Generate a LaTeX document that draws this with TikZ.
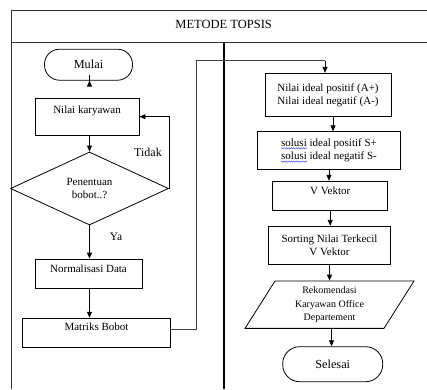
\documentclass[tikz,border=0pt]{standalone}
\usepackage{fontspec}
\setmainfont{Liberation Serif}
\usetikzlibrary{arrows.meta,shapes.geometric,decorations.pathmorphing,calc}
\definecolor{spell}{RGB}{70,90,220}
\begin{document}
\begin{tikzpicture}[x=1pt,y=-1pt,
  box/.style={draw, line width=0.8pt, rectangle, inner sep=0pt, align=center,
    font=\fontsize{11}{13.3}\selectfont},
  term/.style={draw, line width=0.8pt, rectangle, inner sep=0pt,
    font=\fontsize{12.3}{14}\selectfont},
  raise/.style={text height=8pt, text depth=#1},
  decision/.style={draw, line width=0.8pt, diamond, aspect=2, inner sep=0pt,
    align=center, font=\fontsize{11}{13}\selectfont},
  iobox/.style={draw, line width=0.8pt, trapezium, trapezium left angle=62,
    trapezium right angle=118, trapezium stretches=true, inner sep=0pt,
    align=center, font=\fontsize{10}{13.3}\selectfont},
  arr/.style={line width=0.8pt, -{Triangle[length=6pt,width=5pt]}},
  link/.style={line width=0.8pt, draw=black!75},
  frame/.style={line width=1pt, draw=black!80},
  divider/.style={line width=1.8pt, draw=black},
  lbl/.style={inner sep=0pt, font=\fontsize{12}{14}\selectfont},
  wave/.style={draw=spell, line width=0.5pt, decorate,
    decoration={snake, amplitude=0.6pt, segment length=2.4pt}}
]
\useasboundingbox (0,0) rectangle (427,389);

% frame
\draw[frame] (11.7,389) -- (11.7,10) -- (427,10);
\draw[frame] (11.7,42.7) -- (427,42.7);
\draw[divider] (224,42.7) -- (224,389);
\node[lbl, font=\fontsize{12.5}{14}\selectfont] (title) at (223.7,24) {METODE TOPSIS};

% left column
\node[term, rounded corners=15pt, minimum width=88pt, minimum height=31pt] (mulai) at (88.5,64.7) {Mulai};
\node[box, raise=14.8pt, minimum width=104pt, minimum height=36.7pt] (nk) at (87,116.7) {Nilai karyawan};
\node[decision, minimum width=158pt, minimum height=73pt] (pen) at (89.5,188.5) {Penentuan\\bobot..?};
\node[box, raise=9.8pt, minimum width=107pt, minimum height=29pt] (norm) at (88.5,273.5) {Normalisasi Data};
\node[box, raise=12.2pt, minimum width=148.4pt, minimum height=29.7pt] (mat) at (96.5,333) {Matriks Bobot};

\draw[arr] (mulai.south -| pen.north) -- (mulai.south -| pen.north |- nk.north);
\draw[arr] (pen.north |- nk.south) -- (pen.north);
\draw[arr] (pen.east) -- (pen.east |- nk.east) -- (nk.east);
\node[lbl] (tidak) at (148,152) {Tidak};
\draw[arr] (pen.south) -- (pen.south |- norm.north);
\node[lbl, font=\fontsize{11.5}{13}\selectfont] (ya) at (116,237) {Ya};
\draw[arr] (pen.south |- norm.south) -- (pen.south |- mat.north);

% link to right column
\coordinate (up1) at (196.7,60.7);
\coordinate (up2) at (325,60.7);
\draw[link] ([yshift=3.7pt]mat.east) -| (up1) -- (up2);

% right column
\node[box, minimum width=126pt, minimum height=43.4pt] (ni) at (328,95) {Nilai ideal positif (A+)\\Nilai ideal negatif (A-)};
\node[box, minimum width=143.4pt, minimum height=37.3pt] (sol) at (329,150.4) {solusi ideal positif S+\\solusi ideal negatif S-};
\node[box, raise=11.4pt, minimum width=115pt, minimum height=29.7pt] (vv) at (330.2,196) {V Vektor};
\node[box, minimum width=122.4pt, minimum height=38.3pt] (sort) at (329.5,245.4) {Sorting Nilai Terkecil\\V Vektor};
\node[iobox, minimum width=169pt, minimum height=47.3pt] (rek) at (329.5,304.7) {Rekomendasi\\Karyawan Office\\Departement};
\node[term, rounded corners=17pt, minimum width=100pt, minimum height=35pt] (sel) at (332.7,364.2) {Selesai};

\draw[arr] (up2) -- (up2 |- ni.north);
\draw[arr] ([xshift=5pt]ni.south) -- ([xshift=5pt]ni.south |- sol.north);
\draw[arr] (sol.south) -- (sol.south |- vv.north);
\draw[arr] (vv.south) -- (vv.south |- sort.north);
\draw[arr] (sort.south) -- (sort.south |- rek.north);
\draw[arr] ([xshift=2pt]rek.south) -- ([xshift=2pt]rek.south |- sel.north);

% spell-check underlines
\draw[wave] ($(sol.center)+(-48,-2.1)$) -- ++(26,0);
\draw[wave] ($(sol.center)+(-48,11.2)$) -- ++(26,0);
\end{tikzpicture}
\end{document}
